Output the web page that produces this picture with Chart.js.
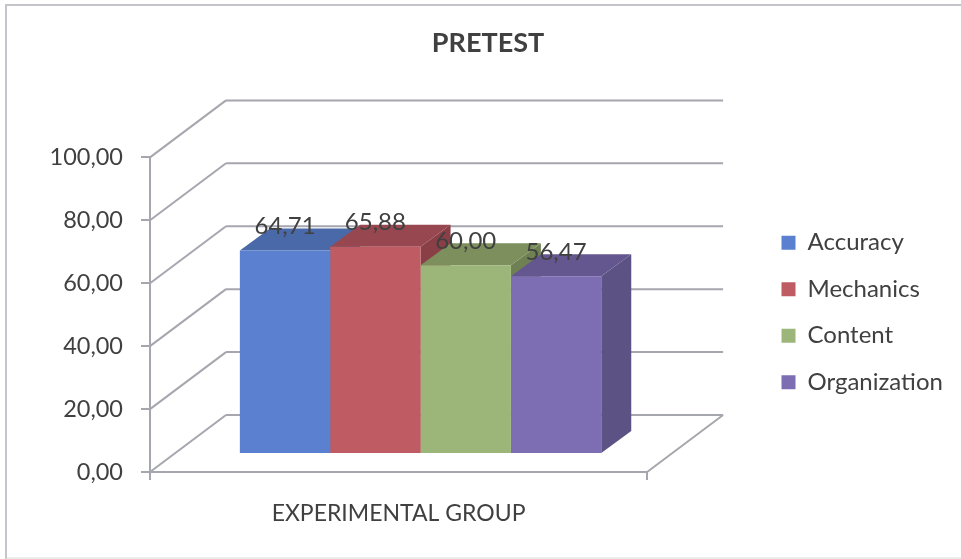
<!DOCTYPE html>
<html lang="en">
<head>
  <meta charset="UTF-8">
  <title>Pretest</title>
  <script src="https://cdn.jsdelivr.net/npm/chart.js"></script>
  <style>
    html, body { margin: 0; padding: 0; background: #fff; }
    #wrap { width: 961px; height: 559px; }
  </style>
</head>
<body>
  <div id="wrap"><canvas id="grafico" width="961" height="559"></canvas></div>

  <script>
    // Data
    const categories = ["EXPERIMENTAL GROUP"];
    const seriesNames = ["Accuracy", "Mechanics", "Content", "Organization"];
    const accuracy = [64.71];
    const mechanics = [65.88];
    const content = [60.00];
    const organization = [56.47];
    const yTicks = [0, 20, 40, 60, 80, 100];

    // Face colours of each box
    const frontColors = ["#5B80CF", "#BF5B62", "#9CB67A", "#7D6DB3"];
    const topColors = ["#4A69A9", "#97474F", "#7C8F5D", "#64578F"];
    const sideColors = ["#3F5B93", "#8A3F47", "#6F8053", "#5D5284"];

    const gridColor = "#A6A6AE";
    const textColor = "#404040";
    const fontName = "Lato";

    // Depth of the box and of the floor, in pixels
    const wallDx = 76, wallDy = -57;
    const barDx = 22, barDy = -18;
    const depthDx = 30, depthDy = -22;

    const formatValue = v => v.toFixed(2).replace(".", ",");

    function line(ctx, x1, y1, x2, y2) {
      ctx.beginPath();
      ctx.moveTo(x1, y1);
      ctx.lineTo(x2, y2);
      ctx.stroke();
    }

    function face(ctx, points, color) {
      ctx.fillStyle = color;
      ctx.beginPath();
      points.forEach((p, i) => i ? ctx.lineTo(p[0], p[1]) : ctx.moveTo(p[0], p[1]));
      ctx.closePath();
      ctx.fill();
    }

    const efeito3d = {
      id: "efeito3d",
      afterLayout(chart) {
        // The legend and the title sit off the default layout boxes
        chart.legend.left = 759;
        chart.legend.right = 961;
        chart.legend.width = 202;
        chart.legend.top += 33;
        chart.legend.bottom += 33;
        chart.titleBlock.left = 15;
        chart.titleBlock.right = 961;
      },
      beforeDraw(chart) {
        const ctx = chart.ctx;
        ctx.save();
        ctx.strokeStyle = "#C4C4CA";
        ctx.lineWidth = 2;
        ctx.beginPath();
        ctx.moveTo(6, 559);
        ctx.lineTo(6, 5);
        ctx.lineTo(961, 5);
        ctx.stroke();
        ctx.lineWidth = 1;
        ctx.strokeStyle = "#DADADA";
        line(ctx, 6, 558, 961, 558);
        ctx.restore();
      },
      beforeDatasetsDraw(chart) {
        const ctx = chart.ctx;
        const { left, right, bottom } = chart.chartArea;
        const yScale = chart.scales.y;

        // Back wall and side wall lines
        ctx.save();
        ctx.strokeStyle = gridColor;
        ctx.lineWidth = 2;
        yTicks.forEach(v => {
          const y = yScale.getPixelForValue(v);
          line(ctx, left, y, left + wallDx, y + wallDy);
          line(ctx, left + wallDx, y + wallDy, right + wallDx, y + wallDy);
        });
        line(ctx, right, bottom, right + wallDx, bottom + wallDy);
        ctx.restore();

        // Tops and sides, left to right so each box covers its neighbour
        chart.data.datasets.forEach((ds, i) => {
          const bar = chart.getDatasetMeta(i).data[0];
          const x1 = bar.x - bar.width / 2 + barDx;
          const x2 = bar.x + bar.width / 2 + barDx;
          const yt = bar.y + barDy;
          const yb = bar.base + barDy;
          face(ctx, [[x2, yt], [x2 + depthDx, yt + depthDy], [x2 + depthDx, yb + depthDy], [x2, yb]], sideColors[i]);
          face(ctx, [[x1, yt], [x1 + depthDx, yt + depthDy], [x2 + depthDx, yt + depthDy], [x2, yt]], topColors[i]);
        });

        // The library draws the front faces, moved into the middle of the floor
        ctx.save();
        ctx.translate(barDx, barDy);
      },
      afterDatasetsDraw(chart) {
        const ctx = chart.ctx;
        ctx.restore();

        ctx.save();
        ctx.fillStyle = textColor;
        ctx.font = "24px " + fontName;
        ctx.textAlign = "center";
        ctx.textBaseline = "middle";
        chart.data.datasets.forEach((ds, i) => {
          const bar = chart.getDatasetMeta(i).data[0];
          ctx.fillText(formatValue(ds.data[0]), bar.x + barDx, bar.y + barDy - 24);
        });
        ctx.restore();
      }
    };

    const seriesValues = [accuracy, mechanics, content, organization];

    new Chart(document.getElementById("grafico"), {
      type: "bar",
      data: {
        labels: categories,
        datasets: seriesNames.map((nome, i) => ({
          label: nome,
          data: seriesValues[i],
          backgroundColor: frontColors[i],
          borderWidth: 0
        }))
      },
      options: {
        responsive: false,
        animation: false,
        categoryPercentage: 0.727,
        barPercentage: 1,
        layout: { padding: { left: 0, right: 120, top: 0, bottom: 0 } },
        plugins: {
          title: {
            display: true,
            text: "PRETEST",
            color: textColor,
            font: { family: fontName, size: 27, weight: "bold" },
            padding: { top: 27, bottom: 98 }
          },
          legend: {
            position: "right",
            labels: {
              color: textColor,
              font: { family: fontName, size: 24 },
              boxWidth: 14,
              boxHeight: 14,
              padding: 22.5
            }
          },
          tooltip: { enabled: false }
        },
        scales: {
          x: {
            afterFit(scale) { scale.height = 87; },
            grid: { offset: true, drawOnChartArea: false, color: gridColor, lineWidth: 2, tickLength: 8 },
            border: { color: gridColor, width: 2 },
            ticks: { color: textColor, font: { family: fontName, size: 23 }, padding: 20 }
          },
          y: {
            min: 0,
            max: 100,
            afterFit(scale) { scale.width = 150; },
            afterBuildTicks(scale) { scale.ticks = yTicks.map(v => ({ value: v })); },
            grid: { drawOnChartArea: false, color: gridColor, lineWidth: 2, tickLength: 9 },
            border: { color: gridColor, width: 2 },
            ticks: {
              color: textColor,
              font: { family: fontName, size: 23.5 },
              padding: 18,
              callback: v => formatValue(v)
            }
          }
        }
      },
      plugins: [efeito3d]
    });
  </script>
</body>
</html>
